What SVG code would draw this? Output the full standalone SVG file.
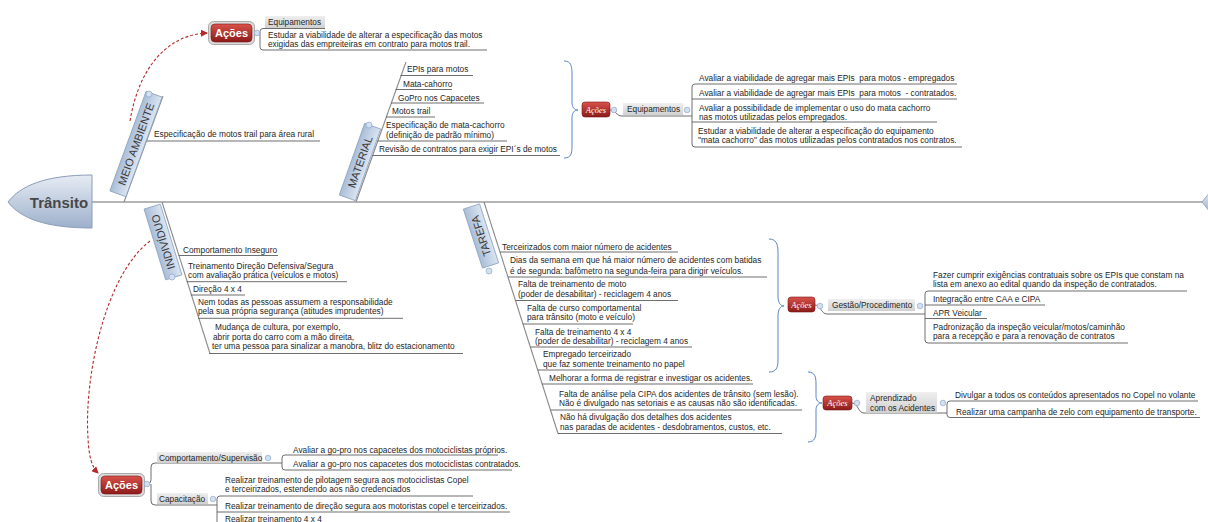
<svg xmlns="http://www.w3.org/2000/svg" width="1208" height="522" viewBox="0 0 1208 522">
<defs>
<linearGradient id="gHead" x1="0" y1="0" x2="0" y2="1"><stop offset="0" stop-color="#e6ecf4"/><stop offset="1" stop-color="#9db0cb"/></linearGradient>
<linearGradient id="gCat" x1="0" y1="0" x2="0" y2="1"><stop offset="0" stop-color="#a9bdd8"/><stop offset="1" stop-color="#dbe5f1"/></linearGradient>
<linearGradient id="gRed" x1="0" y1="0" x2="0" y2="1"><stop offset="0" stop-color="#d9514b"/><stop offset="1" stop-color="#8c1b19"/></linearGradient>
<linearGradient id="gLbl" x1="0" y1="0" x2="0" y2="1"><stop offset="0" stop-color="#efefef"/><stop offset="1" stop-color="#d0d0d0"/></linearGradient>
<marker id="arr" markerWidth="7" markerHeight="7" refX="6" refY="3.5" orient="auto" markerUnits="userSpaceOnUse"><path d="M0,0 L7,3.5 L0,7 Z" fill="#b52a2a"/></marker>
</defs>
<style>
.t{font-family:"Liberation Sans",Arial,sans-serif;font-size:8.3px;fill:#262626}
.pre{white-space:pre}
.cat{font-family:"Liberation Sans",Arial,sans-serif;font-size:11px;fill:#3a3a3a;text-anchor:middle}
.catbox{fill:url(#gCat);stroke:#8da3c0;stroke-width:0.8}
.ln{fill:none;stroke:#5e5e5e;stroke-width:0.9}
.bone{fill:none;stroke:#8a8a8a;stroke-width:1.1}
.spine{fill:none;stroke:#9c9c9c;stroke-width:1.5}
.brace{fill:none;stroke:#5a86c4;stroke-width:1}
.dash{fill:none;stroke:#b52a2a;stroke-width:1.1;stroke-dasharray:3 2}
.lbl{fill:url(#gLbl)}
.red{fill:url(#gRed);stroke:#7a1414;stroke-width:0.6}
.frame{fill:#dadada;stroke:#9a9a9a;stroke-width:0.8}
.ab{font-family:"Liberation Sans",Arial,sans-serif;font-size:11px;font-weight:bold;fill:#fff;text-anchor:middle}
.as{font-family:"Liberation Serif","Times New Roman",serif;font-size:8.5px;font-style:italic;fill:#fff;text-anchor:middle}
.btn{fill:#d3e0f0;stroke:#8ea9cc;stroke-width:0.7}
.head{font-family:"Liberation Sans",Arial,sans-serif;font-size:15px;font-weight:bold;fill:#474747;text-anchor:middle}
</style>
<rect width="1208" height="522" fill="#fff"/>

<g id="connectors">
  <path class="spine" d="M92,202 H1203"/>
  <path class="bone" d="M124,202 L163,96"/>
  <path class="bone" d="M356,202 L406,62"/>
  <path class="bone" d="M162,202 L210,353.5"/>
  <path class="bone" d="M484,202 L558,433.5"/>
  <!-- meio ambiente -->
  <path class="ln" d="M146,141 H320"/>
  <path class="ln" d="M253,33 H260"/>
  <path class="ln" d="M325,28.5 H263 Q260,28.5 260,31.5 V47 Q260,50 263,50 H487"/>
  <!-- material -->
  <path class="ln" d="M400.5,75.5 H473"/>
  <path class="ln" d="M395.7,89.5 H452"/>
  <path class="ln" d="M391,103 H484"/>
  <path class="ln" d="M386,117 H435"/>
  <path class="ln" d="M377.5,141 H507"/>
  <path class="ln" d="M372.5,155.5 H560"/>
  <path class="brace" d="M564,61 C571,61 572,66 572,74 L572,102 C572,107 574,110 578,110 C574,110 572,113 572,118 L572,146 C572,154 571,158 564,158"/>
  <path class="ln" d="M610,110 C616,110 616,116 622,116 H692"/>
  <path class="ln" d="M957,84 H695 Q692,84 692,87 V144 Q692,147 695,147 H962"/>
  <path class="ln" d="M692,99 H957"/>
  <path class="ln" d="M692,122 H937"/>
  <!-- individuo -->
  <path class="ln" d="M178.6,255.5 H278"/>
  <path class="ln" d="M186.7,281.7 H347"/>
  <path class="ln" d="M190.8,295 H245"/>
  <path class="ln" d="M198,318.3 H403"/>
  <path class="ln" d="M209,353.5 H463"/>
  <path class="dash" d="M150,241 C104,276 84,380 88,438 C89,458 92,467 98,473" marker-end="url(#arr)"/>
  <path class="dash" d="M130,121 C138,72 164,35 207,33" marker-end="url(#arr)"/>
  <!-- tarefa -->
  <path class="ln" d="M500,252 H678"/>
  <path class="ln" d="M508,277 H767"/>
  <path class="ln" d="M515.5,300.5 H678"/>
  <path class="ln" d="M523,324 H633"/>
  <path class="ln" d="M530.4,347 H692"/>
  <path class="ln" d="M537.8,370 H650"/>
  <path class="ln" d="M542,384 H753"/>
  <path class="ln" d="M550.6,410 H802"/>
  <path class="ln" d="M558,433.5 H782"/>
  <path class="brace" d="M769,239 C776,239 778,244 778,252 L778,296 C778,302 780,306 784,306 C780,306 778,310 778,316 L778,360 C778,368 776,372 769,372"/>
  <path class="ln" d="M815,305 C821,305 821,314 827,314 H925"/>
  <path class="ln" d="M1187,291 H928 Q925,291 925,294 V340 Q925,343 928,343 H1128"/>
  <path class="ln" d="M925,305 H1045"/>
  <path class="ln" d="M925,318.5 H987"/>
  <path class="brace" d="M808,372 C815,372 816,377 816,384 L816,396 C816,400 818,403 822,403 C818,403 816,406 816,410 L816,430 C816,437 815,442 808,442"/>
  <path class="ln" d="M852,403 C858,403 858,413 864,413 H947"/>
  <path class="ln" d="M1198,401 H950 Q947,401 947,404 V414.5 Q947,417.5 950,417.5 H1200"/>
  <!-- bottom acoes -->
  <path class="ln" d="M143,484 H147 Q151,484 151,480 V467 Q151,463 155,463 H282"/>
  <path class="ln" d="M151,484 V501 Q151,505 155,505 H217"/>
  <path class="ln" d="M498,455 H285 Q282,455 282,458 V467 Q282,470 285,470 H512"/>
  <path class="ln" d="M473,496 H220 Q217,496 217,499 V524"/>
  <path class="ln" d="M217,512 H510"/>
</g>

<g id="n-transito">
  <path d="M8,202 C20,186 45,175 92,175 L92,228 C45,228 20,218 8,202 Z" fill="url(#gHead)" stroke="#8c9db7" stroke-width="1"/>
  <text class="head" x="59" y="207.5">Trânsito</text>
</g>
<g id="n-end"><path d="M1202,202 L1210,192 L1218,202 L1210,212 Z" fill="url(#gHead)" stroke="#8c9db7" stroke-width="0.8"/></g>

<g id="n-meio">
  <g transform="translate(136,144) rotate(-70)"><rect class="catbox" x="-53" y="-8.5" width="106" height="17"/><text class="cat" x="0" y="4">MEIO AMBIENTE</text></g>
  <circle class="btn" cx="149" cy="94" r="3"/>
</g>
<g id="n-material">
  <g transform="translate(360,162) rotate(-70.5)"><rect class="catbox" x="-38" y="-8.5" width="76" height="17"/><text class="cat" x="0" y="4">MATERIAL</text></g>
  <circle class="btn" cx="369" cy="125" r="3"/>
</g>
<g id="n-individuo">
  <g transform="translate(163,242) rotate(-107)"><rect class="catbox" x="-37" y="-8.5" width="74" height="17"/><text class="cat" x="0" y="4">INDIVÍDUO</text></g>
  <circle class="btn" cx="172" cy="277" r="3"/>
</g>
<g id="n-tarefa">
  <g transform="translate(481,236) rotate(-108)"><rect class="catbox" x="-31" y="-8.5" width="62" height="17"/><text class="cat" x="0" y="4">TAREFA</text></g>
  <circle class="btn" cx="489" cy="271" r="3"/>
</g>

<g id="n-acoes-meio">
  <rect class="frame" x="208.5" y="21.5" width="46" height="23" rx="5"/>
  <rect class="red" x="211" y="24" width="41" height="18" rx="4"/>
  <text class="ab" x="231.5" y="37">Ações</text>
  <circle class="btn" cx="257" cy="33" r="2.8"/>
</g>
<g id="n-equip-meio">
  <rect class="lbl" x="265" y="16" width="60" height="12"/>
  <text class="t" x="268" y="24.5">Equipamentos</text>
</g>
<g id="n-estudar-meio"><text class="t" x="268" y="38">Estudar a viabilidade de alterar a especificação das motos</text><text class="t" x="268" y="47">exigidas das empreiteiras em contrato para motos trail.</text></g>
<g id="n-espec-trail"><text class="t" x="154" y="137">Especificação de motos trail para área rural</text></g>

<g id="n-m1"><text class="t" x="407" y="72">EPIs para motos</text></g>
<g id="n-m2"><text class="t" x="403" y="86.5">Mata-cahorro</text></g>
<g id="n-m3"><text class="t" x="398" y="100.5">GoPro nos Capacetes</text></g>
<g id="n-m4"><text class="t" x="392" y="114">Motos trail</text></g>
<g id="n-m5"><text class="t" x="386" y="128">Especificação de mata-cachorro</text><text class="t" x="386" y="137.5">(definição de padrão mínimo)</text></g>
<g id="n-m6"><text class="t" x="379" y="152">Revisão de contratos para exigir EPI´s de motos</text></g>

<g id="n-acoes-mat">
  <rect class="red" x="582" y="102" width="28" height="15" rx="3"/>
  <text class="as" x="596" y="112.5">Ações</text>
  <circle class="btn" cx="614" cy="110" r="2.8"/>
</g>
<g id="n-equip-mat">
  <rect class="lbl" x="623" y="103" width="60" height="12"/>
  <text class="t" x="627" y="112">Equipamentos</text>
  <circle class="btn" cx="687" cy="110" r="2.8"/>
</g>
<g id="n-me1"><text class="t pre" x="699" y="81">Avaliar a viabilidade de agregar mais EPIs  para motos - empregados</text></g>
<g id="n-me2"><text class="t pre" x="699" y="96">Avaliar a viabilidade de agregar mais EPIs  para motos  - contratados.</text></g>
<g id="n-me3"><text class="t" x="699" y="111">Avaliar a possibilidade de implementar o uso do mata cachorro</text><text class="t" x="699" y="119.5">nas motos utilizadas pelos empregados.</text></g>
<g id="n-me4"><text class="t" x="698" y="134">Estudar a viabilidade de alterar a especificação do equipamento</text><text class="t" x="698" y="143">"mata cachorro" das motos utilizadas pelos contratados nos contratos.</text></g>

<g id="n-i1"><text class="t" x="183" y="253">Comportamento Inseguro</text></g>
<g id="n-i2"><text class="t" x="188" y="269">Treinamento Direção Defensiva/Segura</text><text class="t" x="188" y="277.5">com avaliação prática (veículos e motos)</text></g>
<g id="n-i3"><text class="t" x="193" y="292">Direção 4 x 4</text></g>
<g id="n-i4"><text class="t" x="198" y="304.5">Nem todas as pessoas assumem a responsabilidade</text><text class="t" x="198" y="313.5">pela sua própria segurança (atitudes imprudentes)</text></g>
<g id="n-i5"><text class="t" x="215" y="330">Mudança de cultura, por exemplo,</text><text class="t" x="213" y="340">abrir porta do carro com a mão direita,</text><text class="t" x="212" y="349">ter uma pessoa para sinalizar a manobra, blitz do estacionamento</text></g>

<g id="n-acoes-ind">
  <rect class="frame" x="98.5" y="473.5" width="46" height="23" rx="5"/>
  <rect class="red" x="101" y="476" width="41" height="18" rx="4"/>
  <text class="ab" x="121.5" y="489">Ações</text>
  <circle class="btn" cx="147" cy="484" r="2.8"/>
</g>
<g id="n-comp-sup">
  <rect class="lbl" x="157" y="452" width="105" height="11"/>
  <text class="t" x="159" y="460.5">Comportamento/Supervisão</text>
  <circle class="btn" cx="268" cy="458" r="2.8"/>
</g>
<g id="n-cs1"><text class="t" x="293" y="452.5">Avaliar a go-pro nos capacetes dos motociclistas próprios.</text></g>
<g id="n-cs2"><text class="t" x="293" y="467">Avaliar a go-pro nos capacetes dos motociclistas contratados.</text></g>
<g id="n-capac">
  <rect class="lbl" x="157" y="493" width="51" height="11"/>
  <text class="t" x="159" y="501.5">Capacitação</text>
  <circle class="btn" cx="213" cy="499" r="2.8"/>
</g>
<g id="n-cp1"><text class="t" x="225" y="483">Realizar treinamento de pilotagem segura aos motociclistas Copel</text><text class="t" x="225" y="491.5">e terceirizados, estendendo aos não credenciados</text></g>
<g id="n-cp2"><text class="t" x="225" y="509">Realizar treinamento de direção segura aos motoristas copel e terceirizados.</text></g>
<g id="n-cp3"><text class="t" x="225" y="521.5">Realizar treinamento 4 x 4</text></g>

<g id="n-t1"><text class="t" x="502" y="249.5">Terceirizados com maior número de acidentes</text></g>
<g id="n-t2"><text class="t" x="510" y="263">Dias da semana em que há maior número de acidentes com batidas</text><text class="t" x="510" y="273.5">é de segunda: bafômetro na segunda-feira para dirigir veículos.</text></g>
<g id="n-t3"><text class="t" x="518" y="287">Falta de treinamento de moto</text><text class="t" x="518" y="296.5">(poder de desabilitar) - reciclagem 4 anos</text></g>
<g id="n-t4"><text class="t" x="527" y="311">Falta de curso comportamental</text><text class="t" x="527" y="320">para trânsito (moto e veículo)</text></g>
<g id="n-t5"><text class="t" x="535" y="334.5">Falta de treinamento 4 x 4</text><text class="t" x="535" y="343.5">(poder de desabilitar) - reciclagem 4 anos</text></g>
<g id="n-t6"><text class="t" x="543" y="357">Empregado terceirizado</text><text class="t" x="543" y="366.5">que faz somente treinamento no papel</text></g>
<g id="n-t7"><text class="t" x="549" y="381">Melhorar a forma de registrar e investigar os acidentes.</text></g>
<g id="n-t8"><text class="t" x="559" y="396.5">Falta de análise pela CIPA dos acidentes de trânsito (sem lesão).</text><text class="t" x="559" y="406">Não é divulgado nas setoriais e as causas não são identificadas.</text></g>
<g id="n-t9"><text class="t" x="560" y="420">Não há divulgação dos detalhes dos acidentes</text><text class="t" x="560" y="430">nas paradas de acidentes - desdobramentos, custos, etc.</text></g>

<g id="n-acoes-tar">
  <rect class="red" x="788" y="297" width="27" height="15" rx="3"/>
  <text class="as" x="801.5" y="307.5">Ações</text>
  <circle class="btn" cx="820" cy="306" r="2.8"/>
</g>
<g id="n-gestao">
  <rect class="lbl" x="828" y="299" width="87" height="12"/>
  <text class="t" x="832" y="308">Gestão/Procedimento</text>
  <circle class="btn" cx="920" cy="306" r="2.8"/>
</g>
<g id="n-g1"><text class="t" x="933" y="278">Fazer cumprir exigências contratuais sobre os EPIs que constam na</text><text class="t" x="933" y="287">lista em anexo ao edital quando da inspeção de contratados.</text></g>
<g id="n-g2"><text class="t" x="933" y="301.5">Integração entre CAA e CIPA</text></g>
<g id="n-g3"><text class="t" x="933" y="316">APR Veicular</text></g>
<g id="n-g4"><text class="t" x="933" y="330">Padronização da inspeção veicular/motos/caminhão</text><text class="t" x="933" y="339">para a recepção e para a renovação de contratos</text></g>

<g id="n-acoes-apr">
  <rect class="red" x="823" y="396" width="29" height="14" rx="3"/>
  <text class="as" x="837.5" y="406">Ações</text>
  <circle class="btn" cx="857" cy="403" r="2.8"/>
</g>
<g id="n-aprend">
  <rect class="lbl" x="866" y="392" width="71" height="21"/>
  <text class="t" x="870" y="401">Aprendizado</text><text class="t" x="870" y="410.5">com os Acidentes</text>
  <circle class="btn" cx="943" cy="403" r="2.8"/>
</g>
<g id="n-a1"><text class="t" x="955" y="398">Divulgar a todos os conteúdos apresentados no Copel no volante</text></g>
<g id="n-a2"><text class="t" x="956" y="414.5">Realizar uma campanha de zelo com equipamento de transporte.</text></g>
</svg>
